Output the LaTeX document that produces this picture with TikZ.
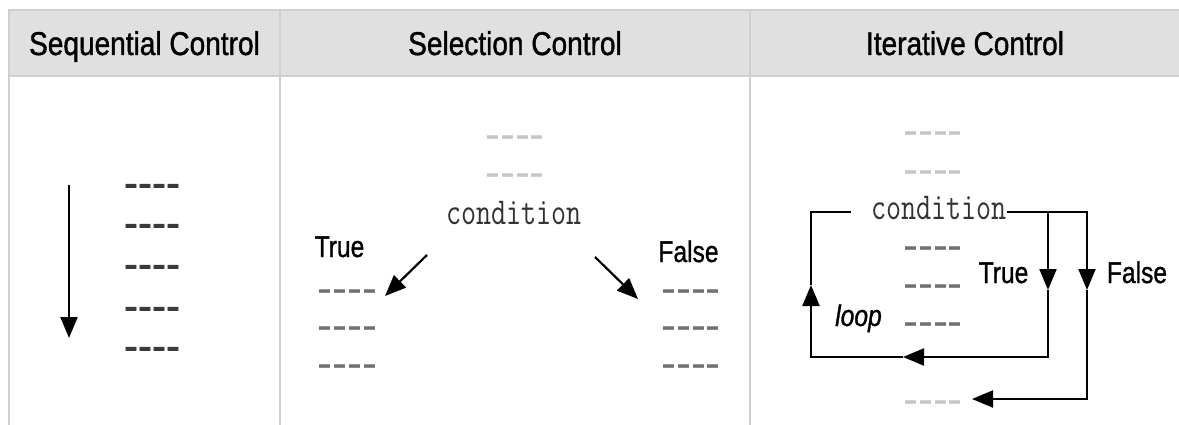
\documentclass[tikz,border=0pt]{standalone}
\usepackage{fontspec}
\usepackage{graphicx}
\usetikzlibrary{arrows.meta}

% Fonts: narrow sans for headings and labels, plain hyphens for the placeholder lines
\newfontfamily\headfont[FakeStretch=0.85, FakeBold=1.2]{Liberation Sans}
\newfontfamily\labelfont[FakeStretch=0.82, FakeBold=1.0]{Liberation Sans}
\newfontfamily\dashfont[Ligatures=TeXOff]{Liberation Sans}
\newfontfamily\seqdashfont[Ligatures=TeXOff, FakeBold=1.5]{Liberation Sans}
\newcommand\codetext[1]{\scalebox{0.77}[1]{\fontsize{38}{40}\selectfont\ttfamily #1}}

\definecolor{rulegray}{HTML}{CFCFCF}
\definecolor{headgray}{HTML}{E0E0E0}
\definecolor{darkdash}{HTML}{3A3A3A}
\definecolor{middash}{HTML}{707070}
\definecolor{lightdash}{HTML}{C6C6C6}
\definecolor{codegray}{HTML}{333333}

\tikzset{
  head/.style={anchor=base, inner sep=0pt, font=\headfont\fontsize{33}{36}\selectfont},
  lab/.style={anchor=base, inner sep=0pt, font=\labelfont\fontsize{30}{32}\selectfont},
  dashes/.style={anchor=base, inner sep=0pt, text height=14pt, text depth=0pt,
    font=\dashfont\fontsize{45}{48}\selectfont, text=middash},
  seqdash/.style={anchor=base, inner sep=0pt, text height=14pt, text depth=0pt,
    font=\seqdashfont\fontsize{42}{44}\selectfont, text=darkdash},
  code/.style={anchor=base, inner sep=0pt, text=codegray},
  flow/.style={line width=2.2pt, line join=miter},
  rule/.style={draw=rulegray, line width=1.3pt},
}

\begin{document}
\begin{tikzpicture}[x=1pt, y=-1pt, >={Triangle[length=21pt,width=17pt]}]
\useasboundingbox (0,0) rectangle (1179,425);
\fill[white] (0,0) rectangle (1179,425);

% table frame and header band
\fill[headgray] (9,10) rectangle (1179,76);
\draw[rule] (9,425) -- (9,10) -- (1179,10);
\draw[rule] (9,76) -- (1179,76);
\draw[rule] (280,10) -- (280,425);
\draw[rule] (750,10) -- (750,425);

\node[head] (h1) at (144.5,55) {Sequential Control};
\node[head] (h2) at (515,55) {Selection Control};
\node[head] (h3) at (965,55) {Iterative Control};

% sequential control
\foreach \y [count=\i] in {197,237,278,320,360}
  \node[seqdash] (s\i) at (152,\y) {----};
\coordinate (sTop) at (69,185);
\coordinate (sTip) at (69,338);
\draw[flow,->] (sTop) -- (sTip);

% selection control
\node[dashes, text=lightdash] (p1) at (515,149.8) {----};
\node[dashes, text=lightdash] (p2) at (515,187.8) {----};
\node[code] (c1) at (514,225) {\codetext{condition}};
\node[lab] (t1) at (339.5,257) {True};
\node[lab] (f1) at (688.5,262) {False};
\foreach \y [count=\i] in {303.8,340.8,378.8} {
  \node[dashes] (tl\i) at (347.5,\y) {----};
  \node[dashes] (fl\i) at (691,\y) {----};
}
\coordinate (aTs) at (427,255);
\coordinate (aTe) at (385,296);
\coordinate (aFs) at (595,257);
\coordinate (aFe) at (638,299);
\draw[flow,->] (aTs) -- (aTe);
\draw[flow,->] (aFs) -- (aFe);

% iterative control
\node[dashes, text=lightdash] (q1) at (933,145.8) {----};
\node[dashes, text=lightdash] (q2) at (933,184.8) {----};
\node[code] (c2) at (939,219) {\codetext{condition}};
\foreach \y [count=\i] in {260.8,298.8,336.8}
  \node[dashes] (b\i) at (933,\y) {----};
\node[dashes, text=lightdash] (q3) at (933,414.8) {----};
\node[lab] (t2) at (1003.5,283) {True};
\node[lab] (f2) at (1137,283) {False};
\node[lab, font=\labelfont\itshape\fontsize{30}{32}\selectfont] (lp) at (858.5,326) {loop};

\coordinate (lstart) at (851,212);
\coordinate (L1) at (811,212);
\coordinate (LB) at (811,357);
\coordinate (TT) at (1048,212);
\coordinate (TB) at (1048,357);
\coordinate (FT) at (1087,212);
\coordinate (FB) at (1087,399);
\coordinate (tT) at (1048,290);
\coordinate (tF) at (1087,290);
\coordinate (tB) at (903,357);
\coordinate (tL) at (811,285);
\coordinate (tE) at (972,399);

% false branch leaves the loop
\draw[flow,->] (c2.east |- FT) -- (FT) -- (tF);
\draw[flow,->] (tF) -- (FB) -- (tE);
% true branch runs the body and returns to the condition
\draw[flow,->] (TT) -- (tT);
\draw[flow,->] (tT) -- (TB) -- (tB);
\draw[flow,->] (tB) -- (LB) -- (tL);
\draw[flow] (tL) -- (L1) -- (lstart);
\end{tikzpicture}
\end{document}
